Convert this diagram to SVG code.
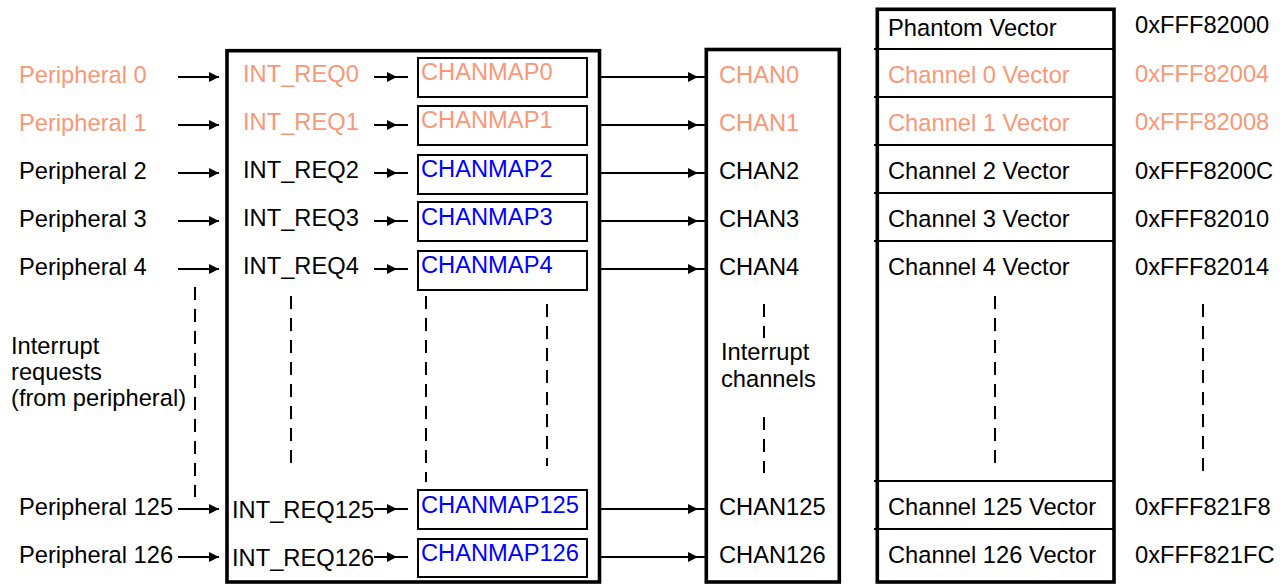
<svg xmlns="http://www.w3.org/2000/svg" width="1286" height="584" viewBox="0 0 1286 584">
<defs>
<style>
text{font-family:"Liberation Sans",Arial,sans-serif;font-size:23.7px;fill:#000}
.s{fill:#F99878}
.b{fill:#0000FF}
.thick{fill:none;stroke:#000;stroke-width:3.6}
.thin{fill:none;stroke:#000;stroke-width:2}
.cn{fill:none;stroke:#000;stroke-width:2}
.dash{fill:none;stroke:#000;stroke-width:2;stroke-dasharray:13 9}
</style>
<marker id="ah" markerUnits="userSpaceOnUse" markerWidth="10" markerHeight="10" viewBox="0 0 8 8" refX="8" refY="4" orient="auto"><path d="M0,0 L8,4 L0,8 z" fill="#000"/></marker>
</defs>
<rect width="1286" height="584" fill="#fff"/>

<g id="peripherals">
<text x="19" y="83" class="s">Peripheral 0</text>
<text x="19" y="131" class="s">Peripheral 1</text>
<text x="19" y="179">Peripheral 2</text>
<text x="19" y="227">Peripheral 3</text>
<text x="19" y="275">Peripheral 4</text>
<text x="11" y="354">Interrupt</text>
<text x="11" y="380">requests</text>
<text x="11" y="406">(from peripheral)</text>
<text x="19" y="515">Peripheral 125</text>
<text x="19" y="563">Peripheral 126</text>
<path class="dash" d="M195,287 V497"/>
</g>

<g id="mapper">
<rect class="thick" x="227" y="50.7" width="372.5" height="531.3"/>
<text x="243" y="82" class="s">INT_REQ0</text>
<text x="243" y="130" class="s">INT_REQ1</text>
<text x="243" y="178">INT_REQ2</text>
<text x="243" y="226">INT_REQ3</text>
<text x="243" y="274">INT_REQ4</text>
<text x="232" y="518">INT_REQ125</text>
<text x="232" y="566">INT_REQ126</text>
<path class="dash" d="M291,296 V466"/>
<path class="dash" d="M426,296 V482"/>
<path class="dash" d="M547,304 V466"/>
</g>

<g id="chanmap0"><rect class="thin" x="418" y="58" width="169" height="39"/><text x="421" y="80" class="s">CHANMAP0</text></g>
<g id="chanmap1"><rect class="thin" x="418" y="106" width="169" height="39"/><text x="421" y="128" class="s">CHANMAP1</text></g>
<g id="chanmap2"><rect class="thin" x="418" y="155" width="169" height="39"/><text x="421" y="177" class="b">CHANMAP2</text></g>
<g id="chanmap3"><rect class="thin" x="418" y="202" width="169" height="39"/><text x="421" y="225" class="b">CHANMAP3</text></g>
<g id="chanmap4"><rect class="thin" x="418" y="251" width="169" height="39"/><text x="421" y="273" class="b">CHANMAP4</text></g>
<g id="chanmap125"><rect class="thin" x="418" y="490" width="169" height="39"/><text x="421" y="513" class="b">CHANMAP125</text></g>
<g id="chanmap126"><rect class="thin" x="418" y="539" width="169" height="38"/><text x="421" y="561" class="b">CHANMAP126</text></g>

<g id="channels">
<rect class="thick" x="706.3" y="49.5" width="133" height="532.5"/>
<text x="719" y="83" class="s">CHAN0</text>
<text x="719" y="131" class="s">CHAN1</text>
<text x="719" y="179">CHAN2</text>
<text x="719" y="227">CHAN3</text>
<text x="719" y="275">CHAN4</text>
<text x="721" y="360">Interrupt</text>
<text x="721" y="387">channels</text>
<text x="719" y="515">CHAN125</text>
<text x="719" y="563">CHAN126</text>
<path class="dash" d="M764,304 V338 M764,417 V473"/>
</g>

<g id="vectors">
<rect class="thick" x="877.3" y="9.3" width="236.7" height="572.7"/>
<path class="thin" d="M874,49 H1114 M874,97 H1114 M874,145 H1114 M874,193 H1114 M874,241 H1114 M874,481 H1114 M874,529 H1114"/>
<text x="888" y="36">Phantom Vector</text>
<text x="888" y="83" class="s">Channel 0 Vector</text>
<text x="888" y="131" class="s">Channel 1 Vector</text>
<text x="888" y="179">Channel 2 Vector</text>
<text x="888" y="227">Channel 3 Vector</text>
<text x="888" y="275">Channel 4 Vector</text>
<text x="888" y="515">Channel 125 Vector</text>
<text x="888" y="563">Channel 126 Vector</text>
<path class="dash" d="M995,296 V466"/>
</g>

<g id="addresses">
<text x="1135" y="33">0xFFF82000</text>
<text x="1135" y="82" class="s">0xFFF82004</text>
<text x="1135" y="130" class="s">0xFFF82008</text>
<text x="1135" y="179">0xFFF8200C</text>
<text x="1135" y="227">0xFFF82010</text>
<text x="1135" y="275">0xFFF82014</text>
<text x="1135" y="515">0xFFF821F8</text>
<text x="1135" y="563">0xFFF821FC</text>
<path class="dash" d="M1203,304 V473"/>
</g>

<g id="connectors">
<path class="cn" marker-end="url(#ah)" d="M178,77 H219"/>
<path class="cn" marker-end="url(#ah)" d="M178,125 H219"/>
<path class="cn" marker-end="url(#ah)" d="M178,173 H219"/>
<path class="cn" marker-end="url(#ah)" d="M178,221 H219"/>
<path class="cn" marker-end="url(#ah)" d="M178,269 H219"/>
<path class="cn" marker-end="url(#ah)" d="M178,509 H219"/>
<path class="cn" marker-end="url(#ah)" d="M178,557 H219"/>

<path class="cn" marker-mid="url(#ah)" d="M374,77 L397,77 L408,77"/>
<path class="cn" marker-mid="url(#ah)" d="M374,125 L397,125 L408,125"/>
<path class="cn" marker-mid="url(#ah)" d="M374,173 L397,173 L408,173"/>
<path class="cn" marker-mid="url(#ah)" d="M374,221 L397,221 L408,221"/>
<path class="cn" marker-mid="url(#ah)" d="M374,269 L397,269 L408,269"/>
<path class="cn" marker-mid="url(#ah)" d="M374,509 L397,509 L408,509"/>
<path class="cn" marker-mid="url(#ah)" d="M374,557 L397,557 L408,557"/>

<path class="cn" marker-mid="url(#ah)" d="M601,77 L698,77 L706,77"/>
<path class="cn" marker-mid="url(#ah)" d="M601,125 L698,125 L706,125"/>
<path class="cn" marker-mid="url(#ah)" d="M601,173 L698,173 L706,173"/>
<path class="cn" marker-mid="url(#ah)" d="M601,221 L698,221 L706,221"/>
<path class="cn" marker-mid="url(#ah)" d="M601,269 L698,269 L706,269"/>
<path class="cn" marker-mid="url(#ah)" d="M601,509 L698,509 L706,509"/>
<path class="cn" marker-mid="url(#ah)" d="M601,557 L698,557 L706,557"/>
</g>
</svg>
